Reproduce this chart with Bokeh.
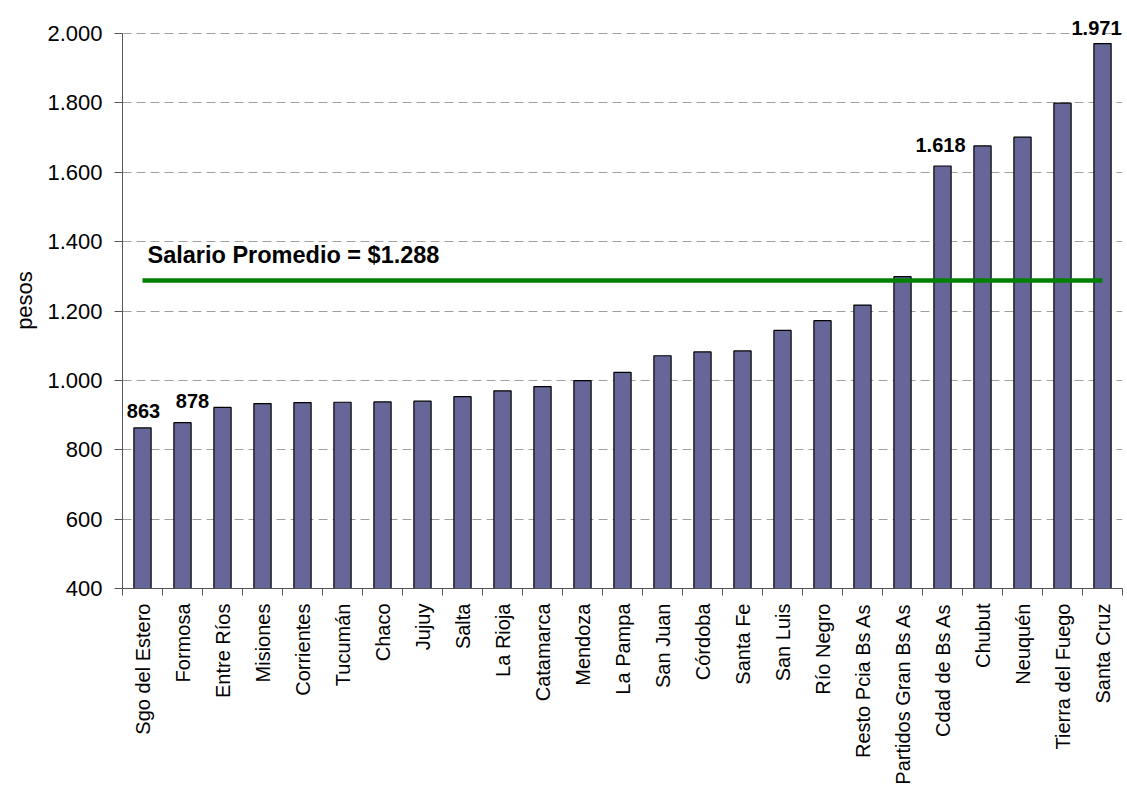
import math
from bokeh.plotting import figure
from bokeh.models import ColumnDataSource, Range1d, FixedTicker, LabelSet, Label
from bokeh.core.properties import value
from bokeh.embed import file_html
from bokeh.resources import INLINE

# ---- data ----
categories = ["Sgo del Estero", "Formosa", "Entre Ríos", "Misiones", "Corrientes",
              "Tucumán", "Chaco", "Jujuy", "Salta", "La Rioja", "Catamarca",
              "Mendoza", "La Pampa", "San Juan", "Córdoba", "Santa Fe", "San Luis",
              "Río Negro", "Resto Pcia Bs As", "Partidos Gran Bs As", "Cdad de Bs As",
              "Chubut", "Neuquén", "Tierra del Fuego", "Santa Cruz"]
salario = [863, 878, 922, 933, 936, 937, 938, 940, 953, 970, 982, 999, 1023, 1071,
           1082, 1085, 1144, 1172, 1217, 1299, 1618, 1676, 1701, 1799, 1971]
labelled_provinces = ["Sgo del Estero", "Formosa", "Cdad de Bs As", "Santa Cruz"]
labelled_texts = ["863", "878", "1.618", "1.971"]
promedio = 1288
promedio_text = "Salario Promedio = $1.288"
y_ticks = [400, 600, 800, 1000, 1200, 1400, 1600, 1800, 2000]
y_tick_labels = ["400", "600", "800", "1.000", "1.200", "1.400", "1.600", "1.800", "2.000"]
y_min, y_max = 400, 2000

# ---- styling / layout ----
FONT = "Liberation Sans"
W, H = 1127, 789
B_LEFT, B_RIGHT, B_TOP, B_BOTTOM = 122, 5, 12, 201
PX_PER_UNIT = 555 / 1600.0
frame_h = H - B_TOP - B_BOTTOM
y_end = y_min + frame_h / PX_PER_UNIT          # headroom above 2.000 for the top label
label_dx = [1, 10, -2, -6]
label_dy = [10, 15, 14, 9]

n = len(categories)
xc = [i + 0.5 for i in range(n)]
y_base = [y_min] * n

p = figure(width=W, height=H, x_range=Range1d(0, n), y_range=Range1d(y_min, y_end),
           output_backend="svg", toolbar_location=None,
           min_border_left=B_LEFT, min_border_right=B_RIGHT,
           min_border_top=B_TOP, min_border_bottom=B_BOTTOM)
p.outline_line_color = None
p.background_fill_color = "white"
p.border_fill_color = "white"

# grid
p.xgrid.grid_line_color = None
p.ygrid.ticker = FixedTicker(ticks=y_ticks)
p.ygrid.grid_line_color = "#a0a0a0"
p.ygrid.grid_line_dash = "9 5"
p.ygrid.grid_line_width = 1

# bars
src = ColumnDataSource(dict(x=xc, top=salario, bottom=y_base))
p.vbar(x="x", top="top", bottom="bottom", width=0.43, source=src,
       fill_color="#666699", line_color="black", line_width=1.2)

# average line
p.line(x=[xc[0], xc[-1]], y=[promedio, promedio], line_color="#008000", line_width=4.5)

# y axis
p.yaxis.bounds = (y_min, y_max)
p.yaxis.ticker = FixedTicker(ticks=y_ticks)
p.yaxis.major_label_overrides = {t: l for t, l in zip(y_ticks, y_tick_labels)}
p.yaxis.major_label_text_font = FONT
p.yaxis.major_label_text_font_size = "22px"
p.yaxis.major_label_text_color = "black"
p.yaxis.major_tick_out = 8
p.yaxis.major_tick_in = 0
p.yaxis.minor_tick_out = 0
p.yaxis.minor_tick_in = 0
p.yaxis.major_label_standoff = 12
p.yaxis.axis_line_color = "#555555"
p.yaxis.major_tick_line_color = "#555555"
p.yaxis.axis_label = "pesos"
p.yaxis.axis_label_text_font = FONT
p.yaxis.axis_label_text_font_style = "normal"
p.yaxis.axis_label_text_font_size = "22px"
p.yaxis.axis_label_text_color = "black"
p.yaxis.axis_label_standoff = 7

# x axis: labels at category centres, tick marks at category boundaries
p.xaxis.ticker = FixedTicker(ticks=xc, minor_ticks=list(range(n + 1)))
p.xaxis.major_label_overrides = {x: c for x, c in zip(xc, categories)}
p.xaxis.major_label_orientation = math.pi / 2
p.xaxis.major_label_text_font = FONT
p.xaxis.major_label_text_font_size = "20px"
p.xaxis.major_label_text_color = "black"
p.xaxis.major_label_standoff = 8
p.xaxis.major_tick_out = 0
p.xaxis.major_tick_in = 0
p.xaxis.minor_tick_out = 7
p.xaxis.minor_tick_in = 0
p.xaxis.axis_line_color = "#555555"
p.xaxis.minor_tick_line_color = "#555555"

# value labels
idx = [categories.index(c) for c in labelled_provinces]
val_src = ColumnDataSource(dict(x=[xc[i] for i in idx], y=[salario[i] for i in idx],
                                text=labelled_texts, dx=label_dx, dy=label_dy))
p.add_layout(LabelSet(x="x", y="y", text="text", source=val_src,
                      x_offset="dx", y_offset="dy",
                      text_align="center", text_baseline="bottom",
                      text_font=value(FONT), text_font_size=value("20px"),
                      text_font_style="bold", text_color="black"))

# average label
p.add_layout(Label(x=xc[0], y=promedio, text=promedio_text, x_offset=5, y_offset=12,
                   text_align="left", text_baseline="bottom", text_font=FONT,
                   text_font_size="23.5px", text_font_style="bold", text_color="black"))

open("out.html", "w").write(file_html(p, INLINE))
